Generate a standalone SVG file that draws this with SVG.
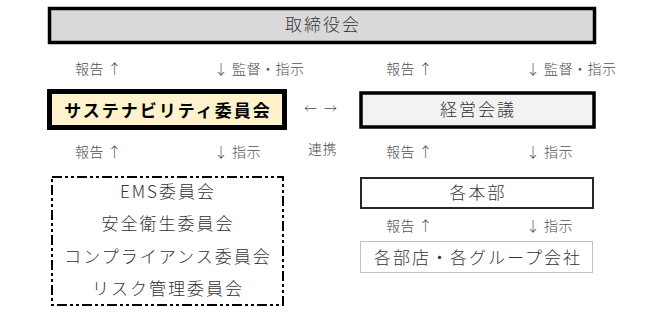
<svg xmlns="http://www.w3.org/2000/svg" width="645" height="318" viewBox="0 0 645 318">
<style>
text{font-family:"Noto Sans CJK JP","Noto Sans",sans-serif;font-weight:300}
.bt{font-size:17px;letter-spacing:2px;fill:#333333;text-anchor:middle}
.lb{font-size:14px;letter-spacing:0.5px;fill:#505050}
</style>
<rect width="645" height="318" fill="#ffffff"/>
<g id="board">
<rect x="49.5" y="8.5" width="545" height="34" fill="#d9d9d9" stroke="#000" stroke-width="3.5"/>
<text class="bt" x="323" y="31">取締役会</text>
</g>
<g id="sustainability">
<rect x="49.5" y="91.5" width="235" height="36" fill="#fff2cc" stroke="#000" stroke-width="5"/>
<text class="bt" x="168" y="117" style="font-weight:bold;fill:#000">サステナビリティ委員会</text>
</g>
<g id="management">
<rect x="361" y="93" width="233" height="34" fill="#f2f2f2" stroke="#000" stroke-width="3.5"/>
<text class="bt" x="478" y="116">経営会議</text>
</g>
<g id="committees">
<rect x="52" y="177" width="231" height="128" fill="none" stroke="#000" stroke-width="2" stroke-dasharray="10 3 3 3 3 3"/>
<text class="bt" x="168" y="198">EMS委員会</text>
<text class="bt" x="168" y="230">安全衛生委員会</text>
<text class="bt" x="168" y="263">コンプライアンス委員会</text>
<text class="bt" x="168" y="295">リスク管理委員会</text>
</g>
<g id="divisions">
<rect x="361" y="178" width="232" height="30" fill="#fff" stroke="#262626" stroke-width="2"/>
<text class="bt" x="478" y="199">各本部</text>
</g>
<g id="branches">
<rect x="360.5" y="241.5" width="232" height="31" fill="#fff" stroke="#bfbfbf" stroke-width="1"/>
<text class="bt" x="478" y="264">各部店・各グループ会社</text>
</g>
<g id="connectors">
<text class="lb" x="75" y="74">報告 ↑</text>
<text class="lb" x="214" y="74">↓ 監督・指示</text>
<text class="lb" x="386" y="74">報告 ↑</text>
<text class="lb" x="526" y="74">↓ 監督・指示</text>
<text class="lb" x="304" y="113" style="font-size:13px;letter-spacing:7px">←→</text>
<text class="lb" x="75" y="157">報告 ↑</text>
<text class="lb" x="214" y="157">↓ 指示</text>
<text class="lb" x="308" y="154">連携</text>
<text class="lb" x="386" y="157">報告 ↑</text>
<text class="lb" x="526" y="157">↓ 指示</text>
<text class="lb" x="386" y="231">報告 ↑</text>
<text class="lb" x="526" y="231">↓ 指示</text>
</g>
</svg>
